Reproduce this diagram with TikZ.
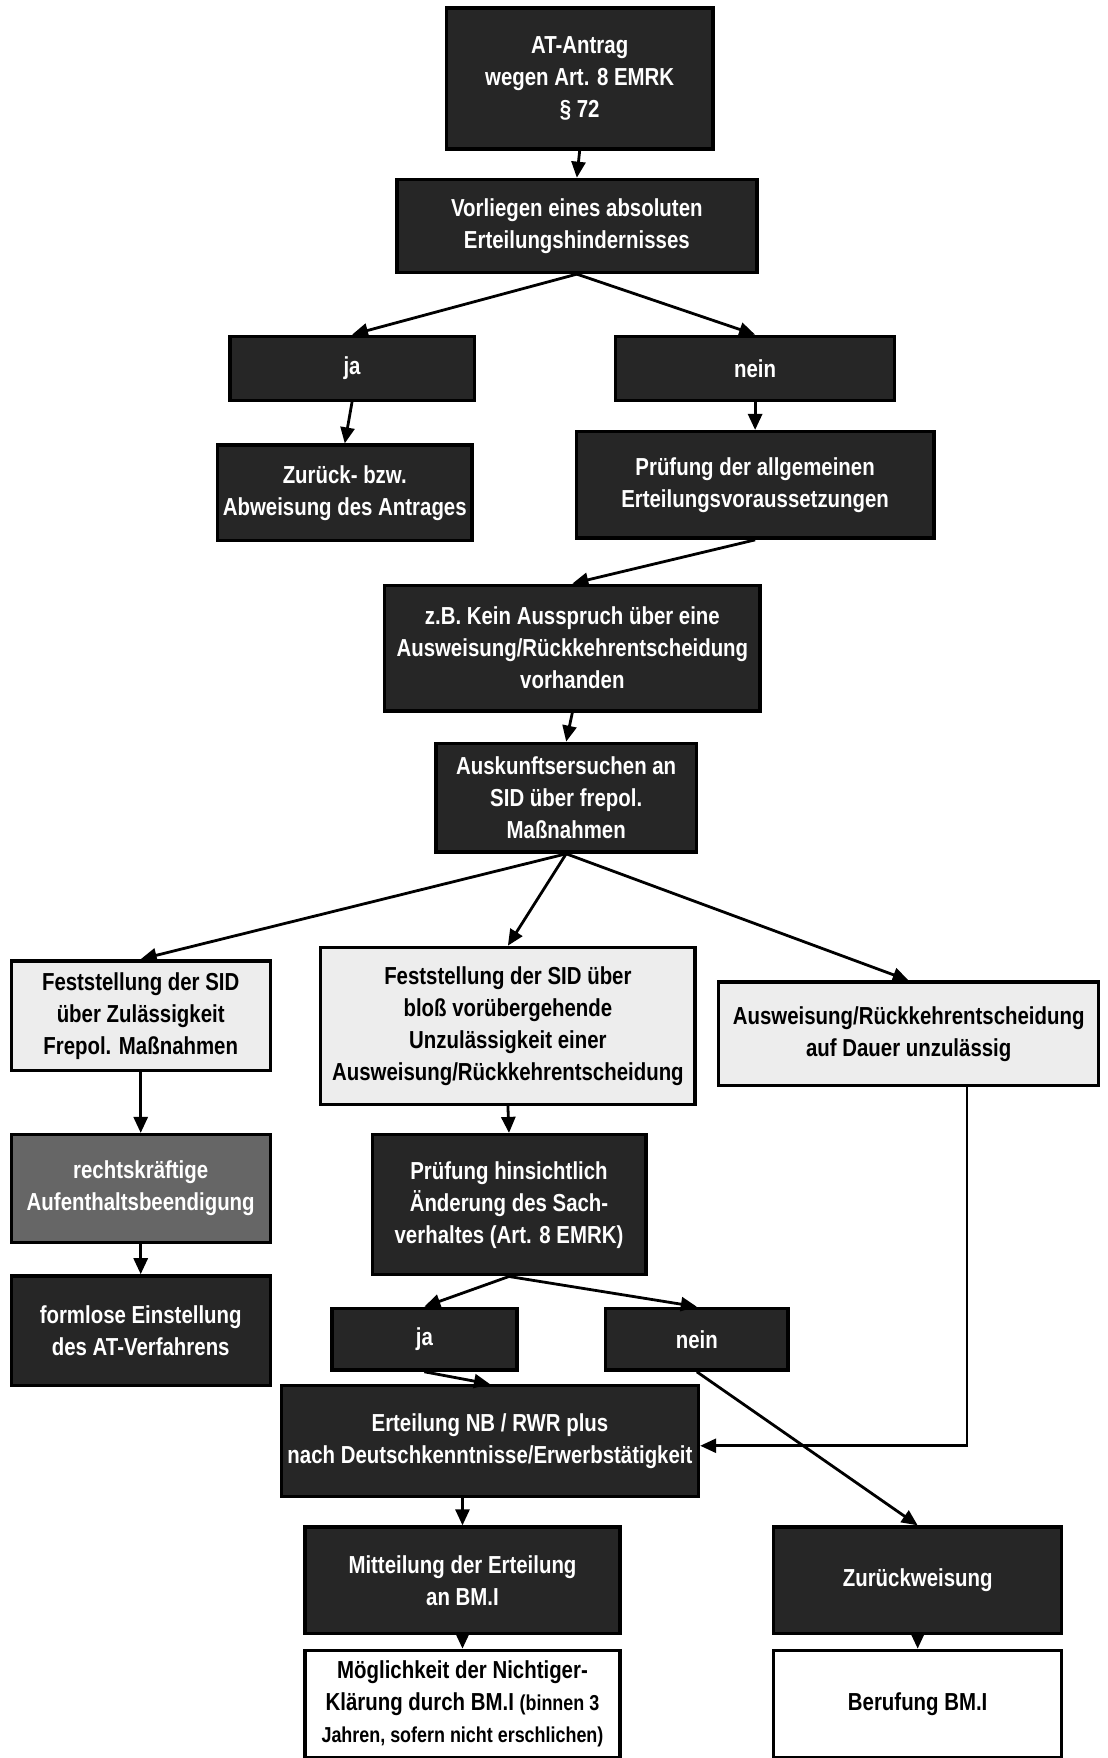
\documentclass[tikz,border=0pt]{standalone}
\usepackage{fontspec}
\setmainfont{Liberation Sans}[FakeStretch=0.83]
\usetikzlibrary{arrows.meta}
\def\u{0.56075pt}
\tikzset{
  x=\u, y=-\u,
  bx/.style 2 args={minimum width=#1*\u, minimum height=#2*\u, inner sep=2pt},
  base/.style={draw=black, line width=1.7pt, align=center, font=\fontsize{12.3}{16}\selectfont\bfseries},
  dbox/.style={base, fill=black!85, text=white},
  gbox/.style={base, fill=black!60, text=white},
  lbox/.style={base, fill=black!7, text=black},
  wbox/.style={base, fill=white, text=black},
  arr/.style={line width=1.4pt, -{Triangle[length=8pt,width=7pt]}},
}
\begin{document}
\begin{tikzpicture}
\useasboundingbox (0,0) rectangle (988,1568);
% row 1
\node[dbox, bx={238}{126}] (at) at (517,70) {AT-Antrag\\wegen Art. 8 EMRK\\§ 72};
\node[dbox, bx={321}{83}] (vor) at (514.5,201.5) {Vorliegen eines absoluten\\Erteilungshindernisses};
\node[dbox, bx={218}{57}] (ja1) at (314,328.5) {ja};
\node[dbox, bx={249}{57}] (nein1) at (673.5,328.5) {nein};
\node[dbox, bx={227}{85}] (zur1) at (307.5,439.5) {Zurück- bzw.\\Abweisung des Antrages};
\node[dbox, bx={319}{95}] (pru1) at (673.5,432.5) {Prüfung der allgemeinen\\Erteilungsvoraussetzungen};
\node[dbox, bx={335}{112}] (kein) at (510.5,578) {z.B. Kein Ausspruch über eine\\Ausweisung/Rückkehrentscheidung\\vorhanden};
\node[dbox, bx={232}{97}] (ausk) at (505,711.5) {Auskunftsersuchen an\\SID über frepol.\\Maßnahmen};
% row Feststellung
\node[lbox, bx={231}{98}] (fl) at (125.5,906) {Feststellung der SID\\über Zulässigkeit\\Frepol. Maßnahmen};
\node[lbox, bx={334}{140}] (fm) at (453,915) {Feststellung der SID über\\bloß vorübergehende\\Unzulässigkeit einer\\Ausweisung/Rückkehrentscheidung};
\node[lbox, bx={339}{92}] (fr) at (810.5,922) {Ausweisung/Rückkehrentscheidung\\auf Dauer unzulässig};
% left column
\node[gbox, bx={231}{96}] (rk) at (125.5,1060) {rechtskräftige\\Aufenthaltsbeendigung};
\node[dbox, bx={231}{98}] (fo) at (125.5,1187) {formlose Einstellung\\des AT-Verfahrens};
% middle
\node[dbox, bx={244}{125}] (ph) at (454,1074.5) {Prüfung hinsichtlich\\Änderung des Sach-\\verhaltes (Art. 8 EMRK)};
\node[dbox, bx={165}{55}] (ja2) at (378.5,1194.5) {ja};
\node[dbox, bx={163}{55}] (nein2) at (621.5,1194.5) {nein};
\node[dbox, bx={372}{99}] (ert) at (437,1285.5) {Erteilung NB / RWR plus\\nach Deutschkenntnisse/Erwerbstätigkeit};
\node[dbox, bx={281}{95}] (mit) at (412.5,1409.5) {Mitteilung der Erteilung\\an BM.I};
\node[dbox, bx={257}{95}] (zur2) at (818.5,1409.5) {Zurückweisung};
\node[wbox, bx={281}{96}] (mog) at (412.5,1520) {Möglichkeit der Nichtiger-\\Klärung durch BM.I {\fontsize{10.8}{16}\selectfont (binnen 3}\\{\fontsize{10.8}{16}\selectfont Jahren, sofern nicht erschlichen)}};
\node[wbox, bx={257}{96}] (ber) at (818.5,1520) {Berufung BM.I};
% connectors
\draw[arr] (at.south) -- (vor.north);
\draw[arr] (vor.south) -- (ja1.north);
\draw[arr] (vor.south) -- (nein1.north);
\draw[arr] (ja1.south) -- (zur1.north);
\draw[arr] (nein1.south) -- (pru1.north);
\draw[arr] (pru1.south) -- (kein.north);
\draw[arr] (kein.south) -- (ausk.north);
\draw[arr] (ausk.south) -- (fl.north);
\draw[arr] (ausk.south) -- (fm.north);
\draw[arr] (ausk.south) -- (fr.north);
\draw[arr] (fl.south) -- (rk.north);
\draw[arr] (rk.south) -- (fo.north);
\draw[arr] (fm.south) -- (ph.north);
\draw[arr] (ph.south) -- (ja2.north);
\draw[arr] (ph.south) -- (nein2.north);
\draw[arr] (ja2.south) -- (ert.north);
\draw[arr] (nein2.south) -- (zur2.north);
\draw[arr] ([xshift=52*\u]fr.south) |- ([yshift=-4*\u]ert.east);
\draw[arr] (mit.north |- ert.south) -- (mit.north);
\draw[arr] (mit.south) -- (mog.north);
\draw[arr] (zur2.south) -- (ber.north);
\end{tikzpicture}
\end{document}
